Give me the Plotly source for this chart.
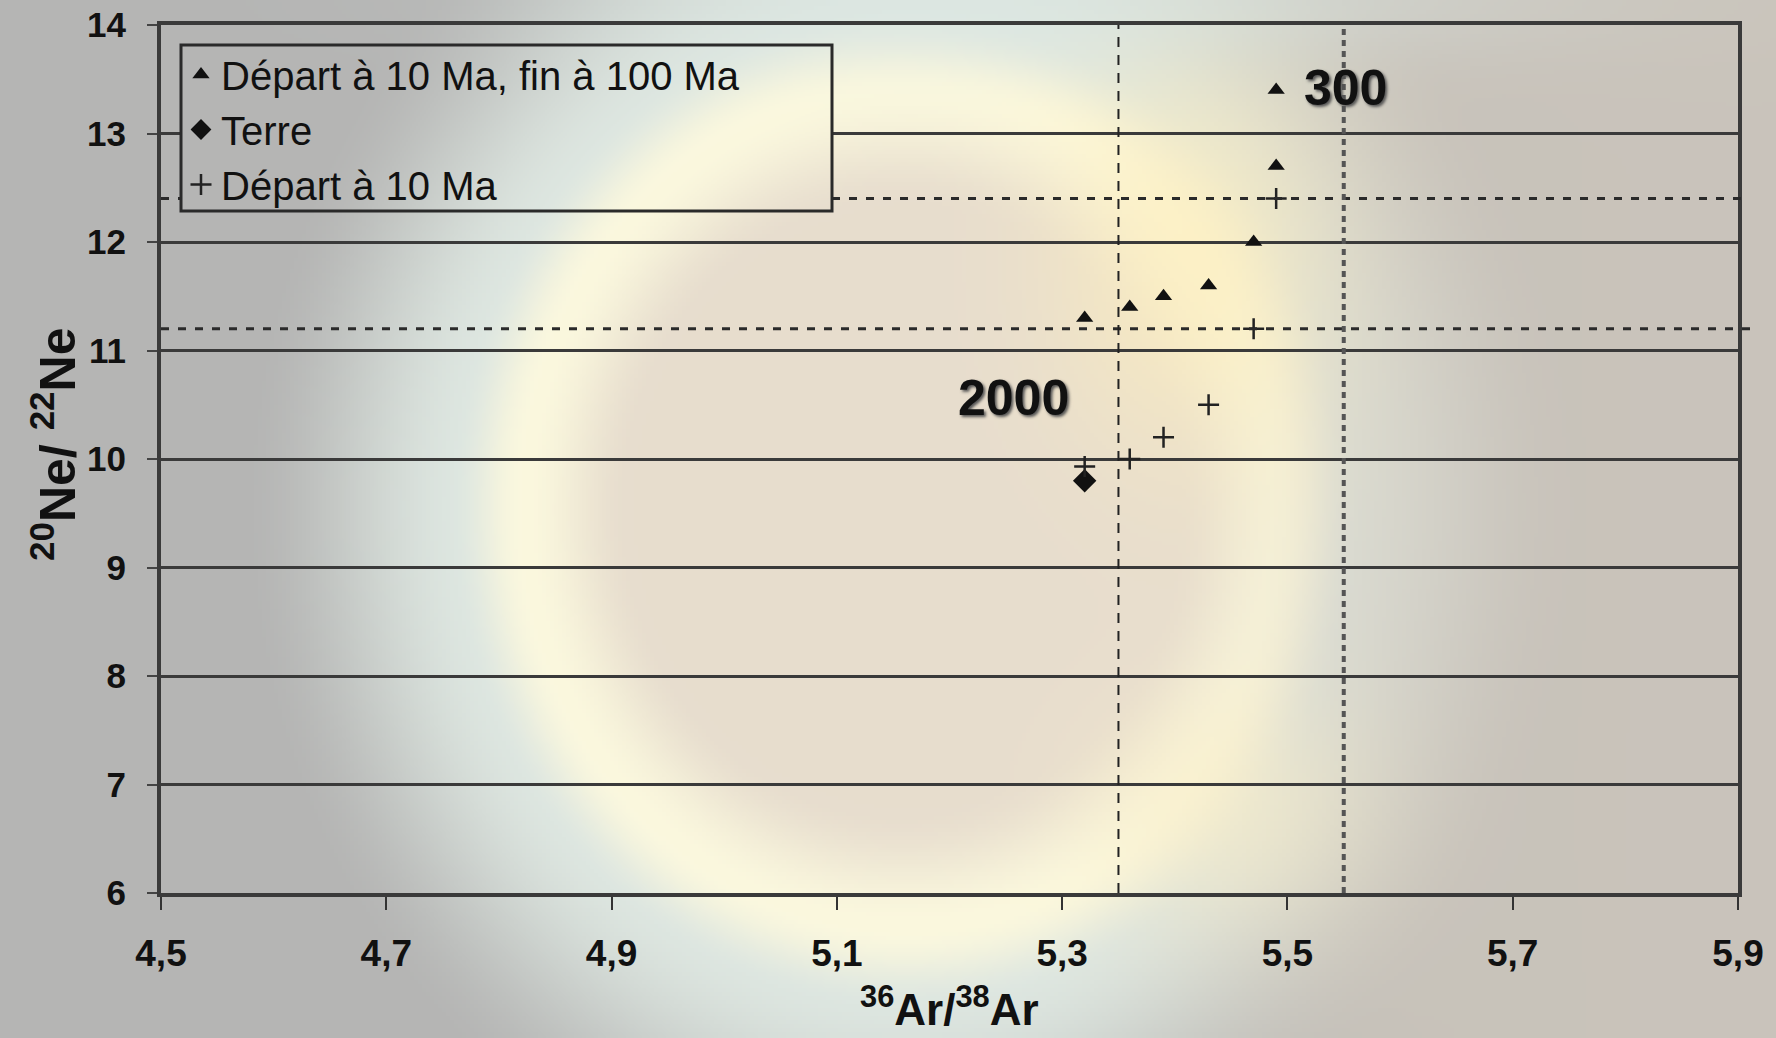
import base64
import struct
import zlib

import numpy as np
import plotly.graph_objects as go

# ---- data -------------------------------------------------------------
# 36Ar/38Ar vs 20Ne/22Ne
tri_name = "Départ à 10 Ma, fin à 100 Ma"
tri_x = [5.32, 5.36, 5.39, 5.43, 5.47, 5.49, 5.49]
tri_y = [11.3, 11.4, 11.5, 11.6, 12.0, 12.7, 13.4]

earth_name = "Terre"
earth_x = [5.32]
earth_y = [9.8]

plus_name = "Départ à 10 Ma"
plus_x = [5.32, 5.36, 5.39, 5.43, 5.47, 5.49]
plus_y = [9.93, 10.0, 10.2, 10.5, 11.2, 12.4]

ref_ne = [12.4, 11.2]   # horizontal reference levels
ref_ar = [5.35, 5.55]   # vertical reference levels

x_ticks = [4.5, 4.7, 4.9, 5.1, 5.3, 5.5, 5.7, 5.9]
y_ticks = [6, 7, 8, 9, 10, 11, 12, 13, 14]

W, H = 1776, 1038
FONT = "Arial, Liberation Sans, sans-serif"

# pixel frame of the plot area and of the legend box
PLOT_L, PLOT_R, PLOT_T, PLOT_B = 161, 1738, 25, 893
LEG_L, LEG_R, LEG_T, LEG_B = 181, 832, 45, 211


# ---- soft halo background (built as a small PNG) -----------------------
def smoothstep(e0, e1, x):
    t = np.clip((x - e0) / (e1 - e0), 0.0, 1.0)
    return t * t * (3 - 2 * t)


def mix(a, b, t):
    return a + (np.asarray(b, float) - a) * t[..., None]


def halo_png(u0=0.0, u1=1.0, v0=0.0, v1=1.0, w=444, h=260):
    us = u0 + (u1 - u0) * (np.arange(w) + 0.5) / w
    vs = v0 + (v1 - v0) * (np.arange(h) + 0.5) / h
    u, v = np.meshgrid(us, vs)
    col = np.empty((h, w, 3))
    col[:] = (181, 181, 180)
    col = mix(col, (189, 186, 181), smoothstep(0.6, 1.0, u))
    r = np.sqrt(((u - 0.51) / 0.245) ** 2 + ((v - 0.49) / 0.46) ** 2)
    col = mix(col, (222, 231, 225), smoothstep(1.55, 1.0, r))
    col = mix(col, (251, 248, 222), smoothstep(1.05, 0.88, r))
    col = mix(col, (231, 221, 206), smoothstep(0.88, 0.62, r))
    # the ring fades on the right-hand side
    right = smoothstep(0.58, 0.80, u) * smoothstep(0.6, 1.1, r)
    col = mix(col, (212, 204, 192), 0.55 * right)
    lobe1 = np.exp(-(((u - 0.67) / 0.08) ** 2 + ((v - 0.25) / 0.2) ** 2))
    col = mix(col, (255, 240, 190), 0.7 * lobe1)
    lobe2 = np.exp(-(((u - 0.69) / 0.08) ** 2 + ((v - 0.78) / 0.12) ** 2))
    col = mix(col, (252, 240, 200), 0.55 * lobe2)
    top = np.exp(-(((u - 0.6) / 0.25) ** 2 + (v / 0.06) ** 2))
    col = mix(col, (220, 232, 228), 0.6 * top)
    img = np.clip(col, 0, 255).astype(np.uint8)

    raw = b"".join(b"\x00" + img[y].tobytes() for y in range(h))

    def chunk(tag, data):
        return (struct.pack(">I", len(data)) + tag + data
                + struct.pack(">I", zlib.crc32(tag + data) & 0xFFFFFFFF))

    png = (b"\x89PNG\r\n\x1a\n"
           + chunk(b"IHDR", struct.pack(">IIBBBBB", w, h, 8, 2, 0, 0, 0))
           + chunk(b"IDAT", zlib.compress(raw, 9))
           + chunk(b"IEND", b""))
    return "data:image/png;base64," + base64.b64encode(png).decode()


# ---- figure -------------------------------------------------------------
fig = go.Figure()

fig.add_trace(go.Scatter(
    x=tri_x, y=tri_y, mode="markers", name=tri_name,
    marker=dict(symbol="triangle-up", size=15, color="#111111"),
))
fig.add_trace(go.Scatter(
    x=earth_x, y=earth_y, mode="markers", name=earth_name,
    marker=dict(symbol="diamond", size=18, color="#111111"),
))
fig.add_trace(go.Scatter(
    x=plus_x, y=plus_y, mode="markers", name=plus_name,
    marker=dict(symbol="cross-thin", size=15, color="#222222",
                line=dict(width=2.5, color="#222222")),
))

x_dom = [PLOT_L / W, PLOT_R / W]
y_dom = [1 - PLOT_B / H, 1 - PLOT_T / H]
leg_box = dict(x0=LEG_L / W, x1=LEG_R / W, y0=1 - LEG_B / H, y1=1 - LEG_T / H)

shapes = []
# horizontal reference lines, interrupted by the legend box when they cross it
for yv in ref_ne:
    ypix = PLOT_T + (14 - yv) / 8 * (PLOT_B - PLOT_T)
    style = dict(color="#2a2a2a", width=3, dash="8px,9px")
    if LEG_T < ypix < LEG_B:
        spans = [(x_dom[0], leg_box["x0"]), (leg_box["x1"], 1750 / W)]
    else:
        spans = [(x_dom[0], 1750 / W)]
    for a, b in spans:
        shapes.append(dict(type="line", xref="paper", yref="y",
                           x0=a, x1=b, y0=yv, y1=yv, line=style))
for i, xv in enumerate(ref_ar):
    shapes.append(dict(type="line", xref="x", yref="y",
                       x0=xv, x1=xv, y0=6, y1=14,
                       line=dict(color="#222222" if i == 0 else "#555555",
                                 width=2 if i == 0 else 4,
                                 dash="10px,8px" if i == 0 else "6px,5px")))
# legend frame
shapes.append(dict(type="rect", xref="paper", yref="paper", **leg_box,
                   line=dict(color="#2a2a2a", width=3)))

label_font = dict(family=FONT, size=50, color="#111111",
                  shadow="2px 2px 3px #555")
annotations = [
    dict(x=5.49, y=13.4, xref="x", yref="y", text="<b>300</b>",
         showarrow=False, xanchor="left", xshift=26, yshift=2,
         font=label_font),
    dict(x=5.257, y=10.56, xref="x", yref="y", text="<b>2000</b>",
         showarrow=False, font=label_font),
    dict(x=20 / W, y=1 - 444 / H, xref="paper", yref="paper",
         text="<b><sup>20</sup>Ne/ <sup>22</sup>Ne</b>", textangle=-90,
         showarrow=False, font=dict(family=FONT, size=50, color="#111111")),
    dict(x=949 / W, y=1 - 1036 / H, xref="paper", yref="paper",
         text="<b><sup>36</sup>Ar/<sup>38</sup>Ar</b>",
         showarrow=False, font=dict(family=FONT, size=44, color="#111111")),
]

fig.update_layout(
    width=W, height=H,
    margin=dict(l=0, r=0, t=0, b=0, autoexpand=False),
    paper_bgcolor="#b7b7b6",
    plot_bgcolor="rgba(0,0,0,0)",
    separators=", ",
    font=dict(family=FONT, color="#111111"),
    images=[
        dict(source=halo_png(), xref="paper", yref="paper",
             x=0, y=1, sizex=1, sizey=1, xanchor="left", yanchor="top",
             sizing="stretch", layer="below"),
        # legend fill: the same halo, cropped to the legend box
        dict(source=halo_png(LEG_L / W, LEG_R / W, LEG_T / H, LEG_B / H,
                             w=326, h=83),
             xref="paper", yref="paper",
             x=leg_box["x0"], y=leg_box["y1"],
             sizex=leg_box["x1"] - leg_box["x0"],
             sizey=leg_box["y1"] - leg_box["y0"],
             xanchor="left", yanchor="top", sizing="stretch", layer="above"),
    ],
    xaxis=dict(
        domain=x_dom, range=[4.5, 5.9], tickvals=x_ticks, tickformat=".1f",
        automargin=False,
        showgrid=False, zeroline=False,
        showline=True, linecolor="#3a3a3a", linewidth=4, mirror=True,
        ticks="outside", ticklen=13, tickwidth=2, tickcolor="#333333",
        ticklabelstandoff=12,
        tickfont=dict(family=FONT, size=37, color="#111111", weight="bold"),
    ),
    yaxis=dict(
        domain=y_dom, range=[6, 14], tickvals=y_ticks,
        automargin=False,
        showgrid=True, gridcolor="#3a3a3a", gridwidth=3, zeroline=False,
        showline=True, linecolor="#3a3a3a", linewidth=4, mirror=True,
        ticks="outside", ticklen=10, tickwidth=2, tickcolor="#444444",
        ticklabelstandoff=14,
        tickfont=dict(family=FONT, size=35, color="#111111", weight="bold"),
    ),
    legend=dict(
        x=LEG_L / W, y=1 - 42 / H, xanchor="left", yanchor="top",
        bgcolor="rgba(0,0,0,0)", borderwidth=0,
        font=dict(family=FONT, size=40, color="#111111"),
        itemwidth=30, tracegroupgap=0,
    ),
    shapes=shapes,
    annotations=annotations,
    showlegend=True,
)

fig.write_html("out.html")
